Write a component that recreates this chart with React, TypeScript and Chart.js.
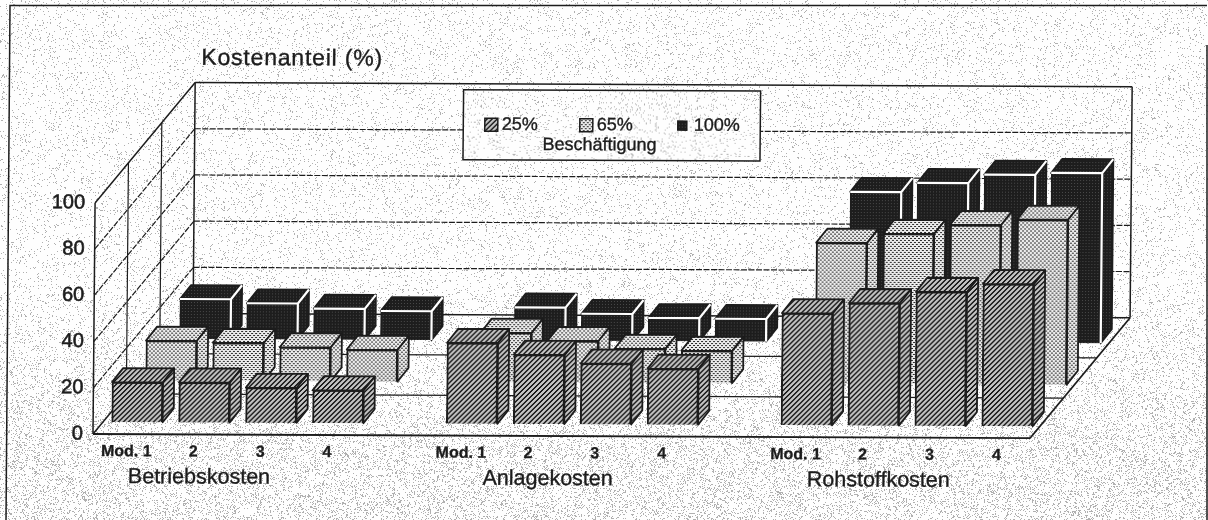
import React, { useEffect, useRef } from "react";
import { Chart, registerables } from "chart.js";

Chart.register(...registerables);

const categories = ["Mod. 1", "2", "3", "4", "", "Mod. 1", "2", "3", "4", "", "Mod. 1", "2", "3", "4"];
const groupNames = ["Betriebskosten", "Anlagekosten", "Rohstoffkosten"];
const groupAnchorSlots = [1, 6, 11];
const seriesLabels = ["25%", "65%", "100%"];
const values25 = [17.3, 17.3, 15.2, 14.2, null, 35, 30, 26.3, 24.2, null, 48.5, 53, 58, 61.5];
const values65 = [17.3, 16.5, 14.7, 13.8, null, 21.4, 18, 14.7, 14, null, 61, 65, 69, 71.4];
const values100 = [17.3, 15.6, 13.4, 12.5, null, 14.3, 11.7, 10, 9.8, null, 65, 69, 72.7, 73.6];
const yTicks = [0, 20, 40, 60, 80, 100];

const FONT = '"Liberation Sans", Arial, sans-serif';
const INK = "#1c1c1c";
const DEPTH_X = 33;
const DEPTH_Y = 40.3;
const ROW_X = 33.6;
const ROW_Y = 41.7;
const ROW_X0 = 10.6;
const ROW_Y0 = 12;
const FACE_X = 11;
const FACE_Y = 14;

function tile(w: number, h: number, paint: (x: number, y: number) => string) {
  const c = document.createElement("canvas");
  c.width = w;
  c.height = h;
  const g = c.getContext("2d")!;
  for (let y = 0; y < h; y++) {
    for (let x = 0; x < w; x++) {
      g.fillStyle = paint(x, y);
      g.fillRect(x, y, 1, 1);
    }
  }
  return c;
}

// integer hash for the scanned paper grain only; no chart value comes from it
function grain(x: number, y: number) {
  let h = Math.imul(x + 1, 73856093) ^ Math.imul(y + 1, 19349663);
  h = Math.imul(h ^ (h >>> 13), 1274126177);
  h ^= h >>> 16;
  return (h >>> 0) / 4294967296;
}

function paperTile() {
  return tile(1208, 520, (x, y) => {
    const t = Math.min(1, Math.max(0, (y - 280) / 170));
    const density = 0.07 + 0.11 * t;
    return grain(x, y) < density ? "#b0b0b0" : "#fefefe";
  });
}

function makePatterns(ctx: CanvasRenderingContext2D) {
  const pat = (c: HTMLCanvasElement) => ctx.createPattern(c, "repeat")!;
  return {
    hatch: pat(tile(5, 5, (x, y) => ((x + y) % 5 < 2 ? "#161616" : "#c4c4c4"))),
    stipple: pat(
      tile(4, 4, (x, y) =>
        (y === 0 && x < 2) || (y === 2 && x >= 2) ? "#2a2a2a" : "#ececec"
      )
    ),
    dark: pat(tile(3, 3, (x, y) => (x === 1 && y === 1 ? "#4a4a4a" : "#1d1d1d"))),
    paper: pat(paperTile()),
  };
}

const rows = [
  { top: "hatch", side: "hatch", edge: INK, innerEdge: INK },
  { top: "stipple", side: "stipple", edge: INK, innerEdge: INK },
  { top: "dark", side: "dark", edge: "#1d1d1d", innerEdge: "#ffffff" },
] as const;

function text(
  ctx: CanvasRenderingContext2D,
  s: string,
  x: number,
  y: number,
  font: string,
  align: CanvasTextAlign = "left",
  spacing = "0px"
) {
  ctx.save();
  ctx.font = font;
  ctx.fillStyle = INK;
  ctx.strokeStyle = INK;
  ctx.lineWidth = 0.35;
  ctx.textAlign = align;
  ctx.textBaseline = "middle";
  (ctx as any).letterSpacing = spacing;
  ctx.fillText(s, x, y);
  ctx.strokeText(s, x, y);
  ctx.restore();
}

export default function App() {
  const ref = useRef<HTMLCanvasElement>(null);

  useEffect(() => {
    const canvas = ref.current!;
    const patterns = makePatterns(canvas.getContext("2d")!);

    const scene = {
      id: "scene",
      beforeDraw(chart: any) {
        const ctx: CanvasRenderingContext2D = chart.ctx;
        ctx.save();
        ctx.fillStyle = patterns.paper;
        ctx.fillRect(0, 0, 1208, 520);
        ctx.strokeStyle = INK;
        ctx.lineWidth = 1.5;
        ctx.beginPath();
        ctx.moveTo(6, 520);
        ctx.lineTo(10, 5.5);
        ctx.lineTo(1207, 5.5);
        ctx.moveTo(1207, 45);
        ctx.lineTo(1207, 520);
        ctx.stroke();
        ctx.restore();
        // the scanned page sits slightly skewed: everything in the plot shares this
        ctx.save();
        ctx.transform(1, 0.0045, -0.009, 1, 3.9, -0.42);
      },
      beforeDatasetsDraw(chart: any) {
        const ctx: CanvasRenderingContext2D = chart.ctx;
        const xs = chart.scales.x;
        const ys = chart.scales.y;
        const L = xs.left;
        const R = xs.right;
        const p = (v: number, d: number, right = false): [number, number] => [
          (right ? R : L) + DEPTH_X * d,
          ys.getPixelForValue(v) - DEPTH_Y * d,
        ];
        const seg = (a: [number, number], b: [number, number]) => {
          ctx.beginPath();
          ctx.moveTo(a[0], a[1]);
          ctx.lineTo(b[0], b[1]);
          ctx.stroke();
        };
        ctx.save();
        ctx.strokeStyle = INK;
        ctx.lineWidth = 1.2;
        ctx.setLineDash([6, 1.5]);
        for (const v of yTicks.slice(1, -1)) {
          seg(p(v, 0), p(v, 3));
          seg(p(v, 3), p(v, 3, true));
        }
        ctx.setLineDash([]);
        // side wall uprights and floor divisions
        for (const d of [1, 2]) {
          seg(p(0, d), p(100, d));
          seg(p(0, d), p(0, d, true));
        }
        ctx.lineWidth = 1.5;
        seg(p(0, 0), p(100, 0));
        seg(p(0, 3), p(100, 3));
        seg(p(100, 0), p(100, 3));
        seg(p(100, 3), p(100, 3, true));
        seg(p(0, 3, true), p(100, 3, true));
        seg(p(0, 0), p(0, 3));
        seg(p(0, 3), p(0, 3, true));
        ctx.lineWidth = 1.8;
        seg(p(0, 0), p(0, 0, true));
        seg(p(0, 0, true), p(0, 3, true));
        ctx.restore();
      },
      beforeDatasetDraw(chart: any, args: any) {
        const ctx: CanvasRenderingContext2D = chart.ctx;
        const k = args.index;
        ctx.save();
        ctx.translate(ROW_X0 + ROW_X * k, -(ROW_Y0 + ROW_Y * k));
      },
      afterDatasetDraw(chart: any, args: any) {
        const ctx: CanvasRenderingContext2D = chart.ctx;
        const row = rows[args.index];
        const source = chart.data.datasets[args.index].data;
        args.meta.data.forEach((el: any, i: number) => {
          if (source[i] === null) return;
          const l = el.x - el.width / 2;
          const r = el.x + el.width / 2;
          const t = el.y;
          const b = el.base;
          ctx.lineWidth = 1.8;
          ctx.strokeStyle = row.edge;
          ctx.lineJoin = "round";
          ctx.fillStyle = (patterns as any)[row.top];
          ctx.beginPath();
          ctx.moveTo(l, t);
          ctx.lineTo(l + FACE_X, t - FACE_Y);
          ctx.lineTo(r + FACE_X, t - FACE_Y);
          ctx.lineTo(r, t);
          ctx.closePath();
          ctx.fill();
          ctx.stroke();
          ctx.fillStyle = (patterns as any)[row.side];
          ctx.beginPath();
          ctx.moveTo(r, t);
          ctx.lineTo(r + FACE_X, t - FACE_Y);
          ctx.lineTo(r + FACE_X, b - FACE_Y);
          ctx.lineTo(r, b);
          ctx.closePath();
          ctx.fill();
          ctx.stroke();
          if (row.innerEdge !== row.edge) {
            ctx.strokeStyle = row.innerEdge;
            ctx.lineWidth = 2.2;
            ctx.beginPath();
            ctx.moveTo(l, t);
            ctx.lineTo(r, t);
            ctx.lineTo(r + FACE_X, t - FACE_Y);
            ctx.moveTo(r, t);
            ctx.lineTo(r, b);
            ctx.stroke();
          }
        });
        ctx.restore();
      },
      afterDraw(chart: any) {
        const ctx: CanvasRenderingContext2D = chart.ctx;
        const xs = chart.scales.x;
        text(ctx, "Kostenanteil (%)", 198, 58, `23px ${FONT}`, "left", "0.8px");
        const groupShift = [6, 20, 16];
        groupNames.forEach((name, i) => {
          text(
            ctx,
            name,
            xs.getPixelForValue(groupAnchorSlots[i]) + groupShift[i],
            477,
            `21.5px ${FONT}`,
            "center"
          );
        });
        // legend box
        ctx.save();
        ctx.fillStyle = patterns.paper;
        ctx.strokeStyle = INK;
        ctx.lineWidth = 1.5;
        ctx.fillRect(460.5, 88, 297, 70);
        ctx.strokeRect(460.5, 88, 297, 70);
        const entries = [
          { sx: 482, sw: 13, tx: 499, fill: patterns.hatch },
          { sx: 577, sw: 13, tx: 594, fill: patterns.stipple },
          { sx: 675, sw: 9, tx: 691, fill: patterns.dark },
        ];
        entries.forEach((e, i) => {
          ctx.fillStyle = e.fill;
          ctx.fillRect(e.sx, 123 - e.sw / 2, e.sw, e.sw);
          ctx.strokeRect(e.sx, 123 - e.sw / 2, e.sw, e.sw);
          text(ctx, seriesLabels[i], e.tx, 123, `18px ${FONT}`);
        });
        text(ctx, "Beschäftigung", 597, 143, `18px ${FONT}`, "center");
        ctx.restore();
        ctx.restore(); // skew from beforeDraw
      },
    };

    const chart = new Chart(canvas, {
      type: "bar",
      data: {
        labels: categories,
        datasets: [values25, values65, values100].map((data, i) => ({
          label: seriesLabels[i],
          data,
          grouped: false,
          clip: false,
          barThickness: 51,
          borderWidth: 2,
          borderColor: i === 2 ? "#1d1d1d" : INK,
          backgroundColor: [patterns.hatch, patterns.stipple, patterns.dark][i],
        })),
      } as any,
      options: {
        responsive: false,
        animation: false,
        devicePixelRatio: 1,
        layout: { padding: { left: 0, right: 178, top: 203, bottom: 0 } },
        plugins: { legend: { display: false }, tooltip: { enabled: false } },
        scales: {
          x: {
            grid: { display: false },
            border: { display: false },
            afterFit: (s: any) => {
              s.height = 86;
            },
            ticks: {
              autoSkip: false,
              maxRotation: 0,
              minRotation: 0,
              padding: 0,
              color: INK,
              textStrokeColor: INK,
              textStrokeWidth: 0.3,
              font: { family: "Liberation Sans", size: 16, weight: "bold" },
            },
          },
          y: {
            min: 0,
            max: 100,
            grid: { display: false },
            border: { display: false },
            afterFit: (s: any) => {
              s.width = 93;
            },
            ticks: {
              stepSize: 20,
              padding: 2,
              color: INK,
              textStrokeColor: INK,
              textStrokeWidth: 0.6,
              font: { family: "Liberation Sans", size: 20 },
            },
          },
        },
      } as any,
      plugins: [scene as any],
    });
    return () => chart.destroy();
  }, []);

  return (
    <canvas
      ref={ref}
      width={1208}
      height={520}
      style={{ position: "fixed", left: 0, top: 0, display: "block" }}
    />
  );
}
